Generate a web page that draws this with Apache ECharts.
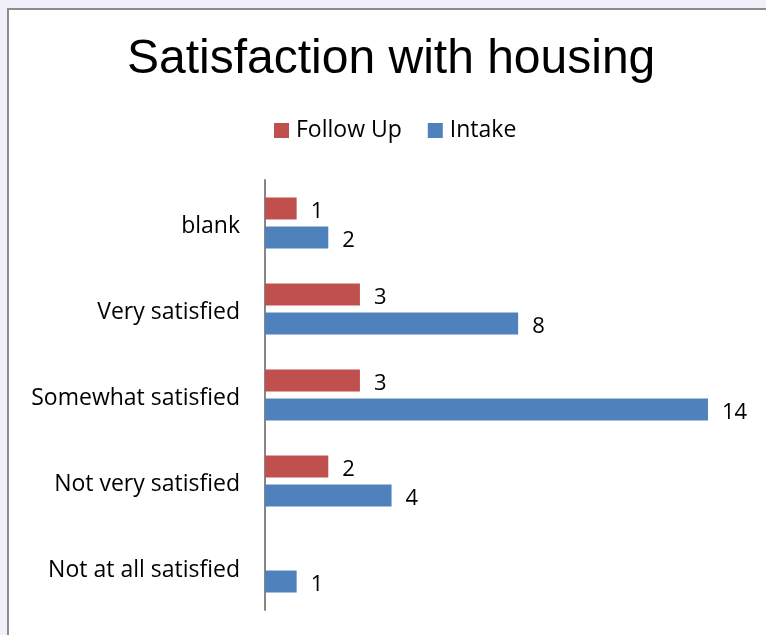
<!DOCTYPE html>
<html>
<head>
<meta charset="utf-8">
<script src="https://cdn.jsdelivr.net/npm/echarts@6/dist/echarts.min.js"></script>
<style>
  html, body { margin: 0; padding: 0; background: #f0f0fa; overflow: hidden; }
  #frame { position: absolute; left: 7px; top: 8px; width: 800px; height: 700px;
           border: 2px solid #8c8c8c; background: #fff; }
  #main { position: absolute; left: 0; top: 0; width: 766px; height: 635px; }
</style>
</head>
<body>
<div id="frame"></div>
<div id="main"></div>
<script>
// categories top to bottom
var categories = ['blank', 'Very satisfied', 'Somewhat satisfied', 'Not very satisfied', 'Not at all satisfied'];
var followUp = [1, 3, 3, 2, null];
var intake = [2, 8, 14, 4, 1];

var labelFont = 'Open Sans, sans-serif';

var chart = echarts.init(document.getElementById('main'));
chart.setOption({
  backgroundColor: 'transparent',
  animation: false,
  title: {
    text: 'Satisfaction with housing',
    left: 127,
    top: 36,
    padding: 0,
    textStyle: { fontFamily: 'Liberation Sans, Arial, sans-serif', fontSize: 48, fontWeight: 'normal', color: '#000' }
  },
  legend: {
    top: 114,
    left: 269,
    itemWidth: 15,
    itemHeight: 15,
    itemGap: 26,
    icon: 'rect',
    textStyle: { fontFamily: labelFont, fontSize: 23, color: '#000', padding: [0, 0, 0, 2] },
    data: ['Follow Up', 'Intake']
  },
  grid: { left: 265, right: 58, top: 180, bottom: 25 },
  xAxis: {
    type: 'value', min: 0, max: 14, show: false
  },
  yAxis: {
    type: 'category',
    inverse: true,
    data: categories,
    axisLine: { lineStyle: { color: '#868686', width: 2 } },
    axisTick: { show: false },
    axisLabel: {
      margin: 25,
      formatter: function (v) { return '{c|' + v + '}'; },
      rich: { c: { fontFamily: labelFont, fontSize: 23, color: '#000', padding: [7, 0, 0, 0] } }
    }
  },
  series: [
    {
      name: 'Follow Up', type: 'bar', data: followUp,
      barWidth: 22, barGap: '32%',
      itemStyle: { color: '#c0504d' },
      label: { show: true, position: 'right', distance: 14, offset: [0, 3], fontFamily: labelFont, fontSize: 22, color: '#000' }
    },
    {
      name: 'Intake', type: 'bar', data: intake,
      barWidth: 22, barGap: '32%',
      itemStyle: { color: '#4f81bd' },
      label: { show: true, position: 'right', distance: 14, offset: [0, 3], fontFamily: labelFont, fontSize: 22, color: '#000' }
    }
  ]
});
</script>
</body>
</html>
